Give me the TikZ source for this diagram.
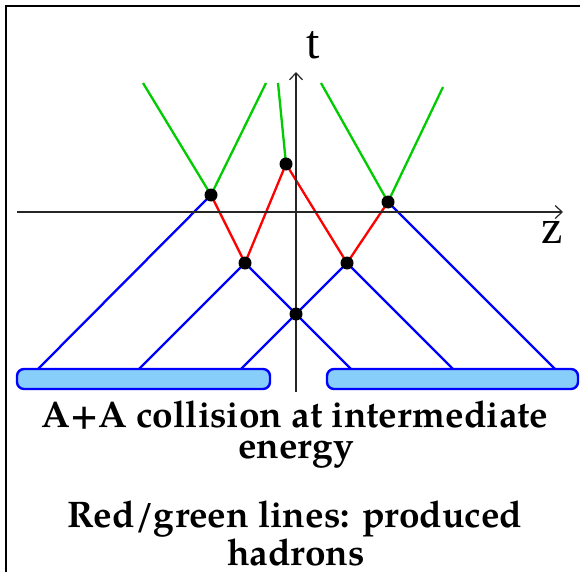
\documentclass[tikz,border=0pt]{standalone}
\usepackage{fontspec}
\setmainfont{TeX Gyre Pagella}
\newfontfamily\axisfont{Liberation Serif}
\usetikzlibrary{arrows.meta}
\definecolor{hgreen}{RGB}{0,204,0}
\definecolor{hred}{RGB}{255,0,0}
\definecolor{hblue}{RGB}{0,0,255}
\definecolor{boxfill}{RGB}{135,206,250}
\pgfdeclarelayer{bg}
\pgfsetlayers{bg,main}
\tikzset{
  dot/.style={circle,fill=black,inner sep=0pt,minimum size=13pt},
  axis/.style={line width=1.2pt,black!85,-{Straight Barb[length=7pt,width=13pt,line width=1.2pt]}},
  nucleon/.style={line width=2.3pt,hblue},
  hadred/.style={line width=2.3pt,hred},
  hadgreen/.style={line width=2.3pt,hgreen},
  nucleus/.style={draw=hblue,fill=boxfill,line width=2.4pt,rounded corners=7pt},
  axlabel/.style={font=\axisfont\fontsize{48}{48}\selectfont,inner sep=0pt,anchor=base},
  caption/.style={font=\bfseries\fontsize{37}{37}\selectfont,inner sep=0pt,anchor=base},
}
\begin{document}
\begin{tikzpicture}[x=1pt,y=-1pt]
\useasboundingbox (0,0) rectangle (580,572);
% frame
\draw[line width=2.6pt] (6,572) -- (6,6) -- (580,6);
% nuclei
\draw[nucleus] (17,369) rectangle (270,389);
\draw[nucleus] (327,369) rectangle (578,389);
\node[inner sep=0pt] (boxL) at (143.5,379) {};
\node[inner sep=0pt] (boxR) at (452.5,379) {};
% axes
\coordinate (tbot) at (296,392);
\coordinate (ttop) at (296,72);
\coordinate (zl) at (17,212);
\coordinate (zr) at (563,212);
\draw[axis] (tbot) -- (ttop);
\draw[axis] (zl) -- (zr);
\node[axlabel] (tlab) at (313,59) {t};
\node[axlabel] (zlab) at (552,243) {z};
% vertices
\node[dot] (D1) at (211,195) {};
\node[dot] (D2) at (286,164) {};
\node[dot] (D3) at (388,202) {};
\node[dot] (D4) at (245,263) {};
\node[dot] (D5) at (347,263) {};
\node[dot] (D6) at (296,314) {};
% base points on nuclei
\coordinate (L1) at (38,369);
\coordinate (L2) at (139,369);
\coordinate (L3) at (241,369);
\coordinate (R1) at (351,369);
\coordinate (R2) at (453,369);
\coordinate (R3) at (555,369);
% green ends
\coordinate (G1) at (143,83);
\coordinate (G2) at (266,83);
\coordinate (G3) at (278,83);
\coordinate (G4) at (321,83);
\coordinate (G5) at (443,87);
\begin{pgfonlayer}{bg}
\draw[nucleon] (L1) -- (D1.center);
\draw[nucleon] (L2) -- (D4.center);
\draw[nucleon] (L3) -- (D6.center) -- (D5.center);
\draw[nucleon] (D4.center) -- (D6.center) -- (R1);
\draw[nucleon] (D5.center) -- (R2);
\draw[nucleon] (D3.center) -- (R3);
\draw[hadred] (D1.center) -- (D4.center) -- (D2.center) -- (D5.center) -- (D3.center);
\draw[hadgreen] (G1) -- (D1.center) -- (G2);
\draw[hadgreen] (G3) -- (D2.center);
\draw[hadgreen] (G4) -- (D3.center) -- (G5);
\end{pgfonlayer}
% captions
\node[caption] (c1) at (295,427) {A+A collision at intermediate};
\node[caption] (c2) at (296,458) {energy};
\node[caption] (c3) at (295,527) {Red/green lines: produced};
\node[caption] (c4) at (296,565) {hadrons};
\end{tikzpicture}
\end{document}
